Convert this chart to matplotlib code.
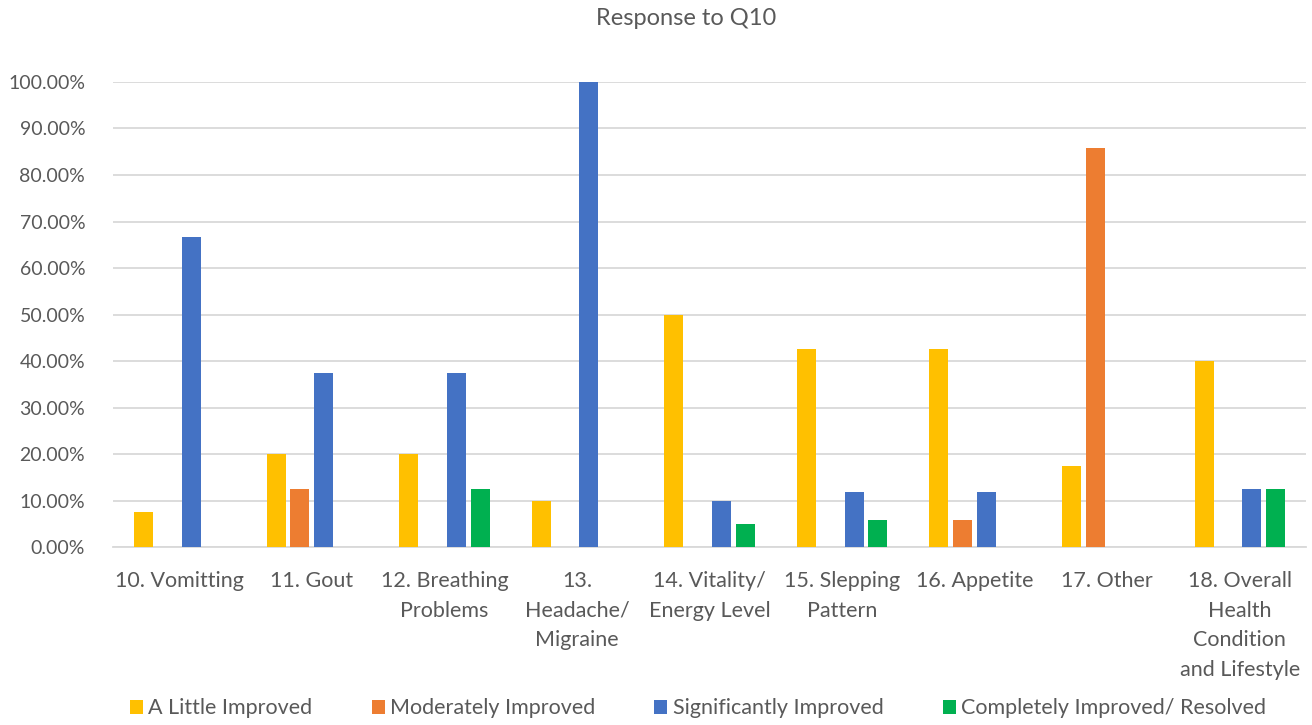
import matplotlib
matplotlib.use("Agg")
import matplotlib.pyplot as plt
import numpy as np
from matplotlib.ticker import FuncFormatter

plt.rcParams['font.family'] = ['Lato', 'DejaVu Sans']

categories = [
    "10. Vomitting",
    "11. Gout",
    "12. Breathing\nProblems",
    "13.\nHeadache/\nMigraine",
    "14. Vitality/\nEnergy Level",
    "15. Slepping\nPattern",
    "16. Appetite",
    "17. Other",
    "18. Overall\nHealth\nCondition\nand Lifestyle",
]

a_little = [7.5, 20.0, 20.0, 10.0, 50.0, 42.5, 42.5, 17.5, 40.0]
moderately = [0, 12.5, 0, 0, 0, 0, 5.88, 85.71, 0]
significantly = [66.67, 37.5, 37.5, 100.0, 10.0, 11.76, 11.76, 0, 12.5]
completely = [0, 0, 12.5, 0, 5.0, 5.88, 0, 0, 12.5]

series = [
    ("A Little Improved", a_little, "#FFC000"),
    ("Moderately Improved", moderately, "#ED7D31"),
    ("Significantly Improved", significantly, "#4472C4"),
    ("Completely Improved/ Resolved", completely, "#00B050"),
]

fig = plt.figure(figsize=(13.12, 7.25), dpi=100)
ax = fig.add_axes([0.0861, 0.2455, 0.9095, 0.6414])

x = np.arange(len(categories))
step = 0.18
width = 0.143
for i, (name, vals, color) in enumerate(series):
    offs = (i - 1.5) * step
    ax.bar(x + offs, vals, width=width, color=color, label=name, zorder=3)

ax.set_xlim(-0.5, len(categories) - 0.5)
ax.set_ylim(0, 100)
ax.set_yticks(np.arange(0, 101, 10))
ax.yaxis.set_major_formatter(FuncFormatter(lambda v, p: f"{v:.2f}%"))
ax.grid(axis='y', color='#D9D9D9', linewidth=1.3, zorder=0)
for s in ['top', 'right', 'left']:
    ax.spines[s].set_visible(False)
ax.spines['bottom'].set_color('#D9D9D9')
ax.spines['bottom'].set_linewidth(1.3)
ax.tick_params(axis='both', length=0, labelcolor='#595959')
ax.tick_params(axis='y', pad=20, labelsize=14)
ax.tick_params(axis='x', pad=17, labelsize=15.5)
ax.set_xticks(x)
ax.set_xticklabels(categories, linespacing=1.62, va='top')

fig.text(0.523, 0.974, "Response to Q10", ha='center', va='center',
         fontsize=17, color='#595959')

leg = fig.legend(loc='center', bbox_to_anchor=(0.532, 0.023), ncol=4, frameon=False,
                 fontsize=15.5, handlelength=0.6, handleheight=0.6,
                 handletextpad=0.25, columnspacing=2.75)
for t in leg.get_texts():
    t.set_color('#595959')

fig.savefig("out.png", dpi=100, facecolor='white')
